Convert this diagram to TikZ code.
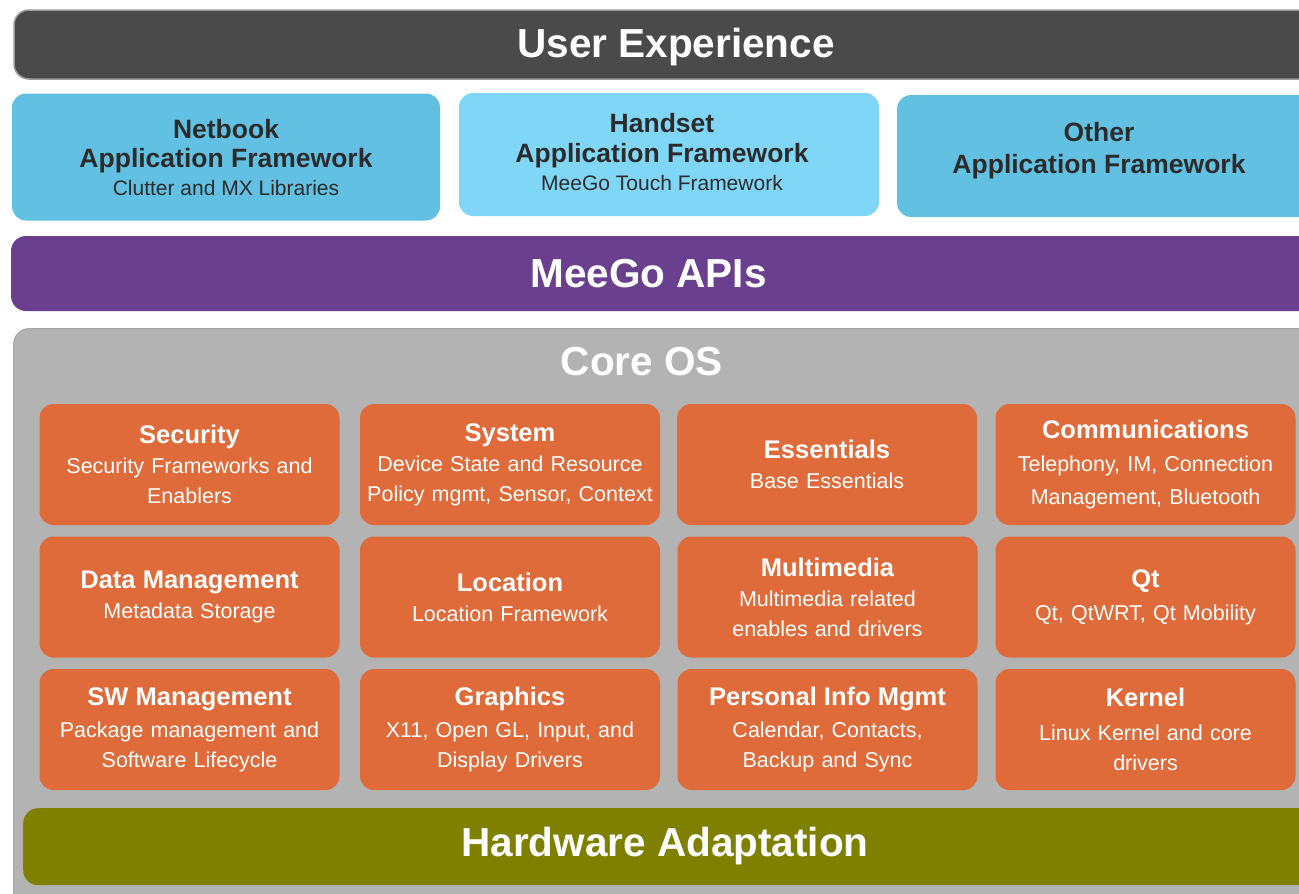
\documentclass[tikz,border=0pt]{standalone}
\usepackage{fontspec}
\setmainfont{Liberation Sans}
\definecolor{uxgray}{HTML}{4A4A4A}
\definecolor{uxedge}{HTML}{9C9C9C}
\definecolor{skyA}{HTML}{62C1E3}
\definecolor{skyB}{HTML}{80D6F6}
\definecolor{apipurple}{HTML}{693F8E}
\definecolor{coregray}{HTML}{B3B3B3}
\definecolor{coreedge}{HTML}{A6A6A6}
\definecolor{orangebox}{HTML}{E06B3A}
\definecolor{olivebar}{HTML}{808000}
\definecolor{darktext}{HTML}{2B2B2B}
\begin{document}
\begin{tikzpicture}[x=1pt,y=-1pt,
  bigtext/.style={text=white,font=\fontsize{40.5}{48}\selectfont\bfseries,inner sep=0pt},
  fwbox/.style={rounded corners=14pt,inner sep=0pt,text=darktext,align=center,
     font=\fontsize{21}{30}\selectfont},
  fwlabel/.style={inner sep=0pt,text=darktext,align=center,
     font=\fontsize{21}{30}\selectfont},
  modbox/.style={fill=orangebox,rounded corners=14pt,inner sep=0pt,
     minimum width=300pt,minimum height=121pt,text=white,align=center,text width=296pt,
     font=\fontsize{21.5}{30}\selectfont},
]
\newcommand{\ftitle}[1]{{\fontsize{26.5}{33}\selectfont\bfseries #1}}
\newcommand{\mtitle}[1]{{\fontsize{25.5}{32}\selectfont\bfseries #1}}
\useasboundingbox (0,0) rectangle (1299,894);
\clip (0,0) rectangle (1299,894);
\fill[white] (0,0) rectangle (1299,894);

% User Experience bar
\node[fill=uxgray,draw=uxedge,line width=1.5pt,rounded corners=15pt,inner sep=0pt,
  minimum width=1320pt,minimum height=69pt] (ux) at (674,44.5) {};
\node[bigtext] (uxt) at (676,47) {User Experience};

% Application frameworks
\node[fwbox,fill=skyA,minimum width=428pt,minimum height=127pt] (netbook) at (226,157)
  {\ftitle{Netbook}\\[-1pt]\ftitle{Application Framework}\\[-2pt]Clutter and MX Libraries};
\node[fwbox,fill=skyB,minimum width=420pt,minimum height=123pt] (handset) at (669,154.5) {};
\node[fwlabel] (handsett) at (662,152)
  {\ftitle{Handset}\\\ftitle{Application Framework}\\[-2pt]MeeGo Touch Framework};
\node[fwbox,fill=skyA,minimum width=440pt,minimum height=122pt] (other) at (1117,156) {};
\node[fwlabel] (othert) at (1099,151)
  {\ftitle{Other}\\[2pt]\ftitle{Application Framework}};

% MeeGo APIs bar
\node[fill=apipurple,rounded corners=15pt,inner sep=0pt,
  minimum width=1320pt,minimum height=75pt] (api) at (671,273.5) {};
\node[bigtext] (apit) at (648.5,274) {MeeGo APIs};

% Core OS
\node[fill=coregray,draw=coreedge,line width=1pt,rounded corners=16pt,inner sep=0pt,
  minimum width=1320pt,minimum height=620pt,anchor=north west] (core) at (13,328) {};
\node[bigtext] (coret) at (642,362) {Core OS};

% Modules
\node[modbox] (security) at (189.5,464.5)
  {\mtitle{Security}\\Security Frameworks and\\Enablers};
\node[modbox] (system) at (510,464.5)
  {\mtitle{System}\\Device State and Resource\\Policy mgmt, Sensor, Context};
\node[modbox] (essentials) at (827,464.5)
  {\mtitle{Essentials}\\Base Essentials};
\node[modbox] (comms) at (1145.5,464.5)
  {\mtitle{Communications}\\[3pt]Telephony, IM, Connection\\[3pt]Management, Bluetooth};

\node[modbox] (datamgmt) at (189.5,597)
  {\mtitle{Data Management}\\Metadata Storage};
\node[modbox] (location) at (510,597)
  {\mtitle{Location}\\Location Framework};
\node[modbox] (multimedia) at (827.5,597)
  {\mtitle{Multimedia}\\Multimedia related\\enables and drivers};
\node[modbox] (qt) at (1145.5,597)
  {\mtitle{Qt}\\[3pt]Qt, QtWRT, Qt Mobility};

\node[modbox] (swmgmt) at (189.5,729.5)
  {\mtitle{SW Management}\\[2pt]Package management and\\Software Lifecycle};
\node[modbox] (graphics) at (510,729.5)
  {\mtitle{Graphics}\\[2pt]X11, Open GL, Input, and\\Display Drivers};
\node[modbox] (pim) at (827.5,729.5)
  {\mtitle{Personal Info Mgmt}\\[2pt]Calendar, Contacts,\\Backup and Sync};
\node[modbox] (kernel) at (1145.5,729.5)
  {\mtitle{Kernel}\\[4pt]Linux Kernel and core\\drivers};

% Hardware Adaptation
\node[fill=olivebar,rounded corners=15pt,inner sep=0pt,
  minimum width=1310pt,minimum height=77pt,anchor=north west] (hw) at (23,808) {};
\node[bigtext] (hwt) at (665,846) {Hardware Adaptation};
\end{tikzpicture}
\end{document}
